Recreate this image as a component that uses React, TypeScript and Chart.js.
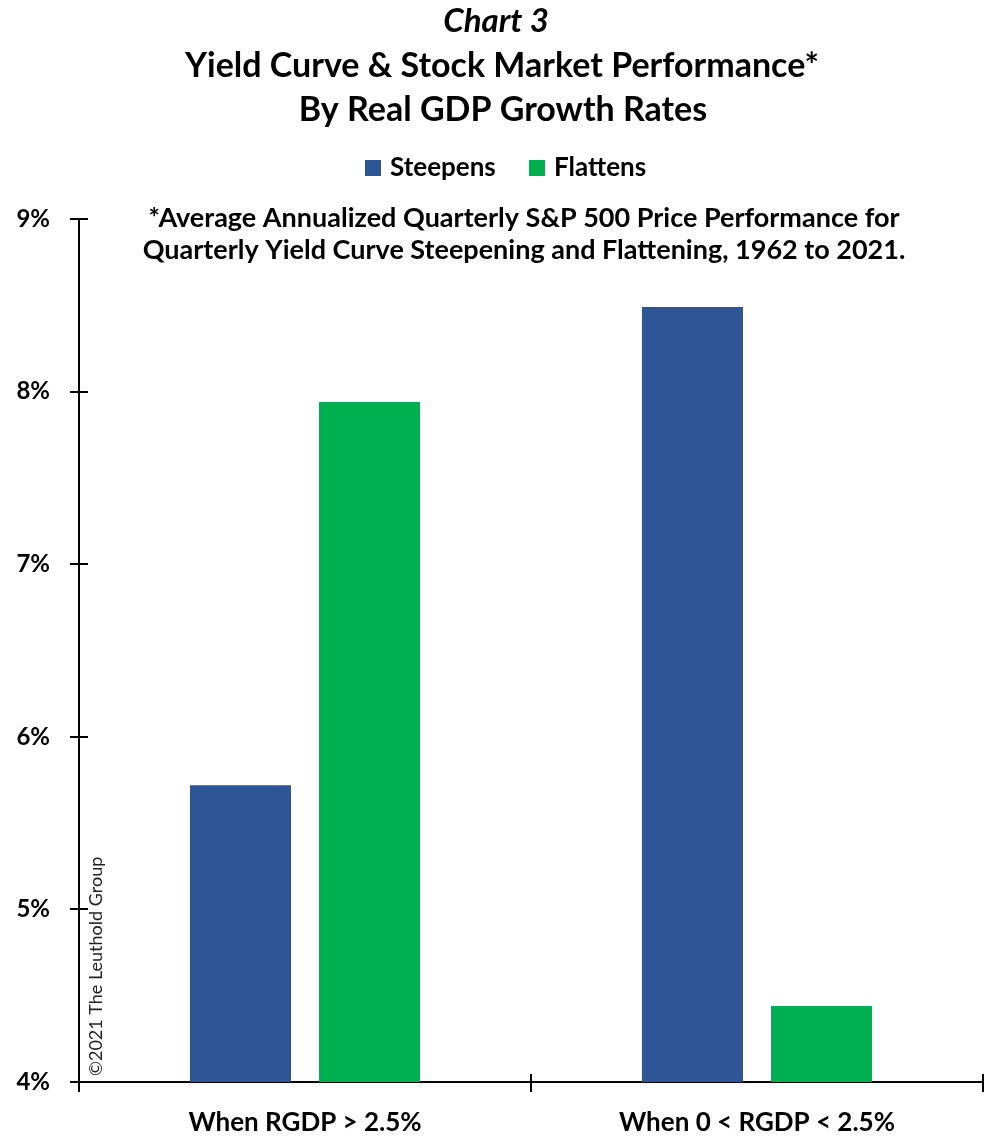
import React, { useEffect, useRef } from "react";
import { Chart, registerables } from "chart.js";

Chart.register(...registerables);

const categories = ["When RGDP > 2.5%", "When 0 < RGDP < 2.5%"];
const steepens = [5.72, 8.49];
const flattens = [7.94, 4.44];
const seriesNames = ["Steepens", "Flattens"];
const seriesColors = ["#2E5596", "#00B050"];
const titleLines = ["Chart 3", "Yield Curve & Stock Market Performance*", "By Real GDP Growth Rates"];
const noteLines = [
  "*Average Annualized Quarterly S&P 500 Price Performance for",
  "Quarterly Yield Curve Steepening and Flattening, 1962 to 2021.",
];
const copyright = "\u00A92021 The Leuthold Group";

const FONT = "Lato, 'Open Sans', sans-serif";

const decorPlugin = {
  id: "decor",
  afterDraw(chart: any) {
    const ctx = chart.ctx as CanvasRenderingContext2D;
    const x = chart.scales.x;
    const y = chart.scales.y;
    ctx.save();

    // titles
    ctx.fillStyle = "#000";
    ctx.textAlign = "center";
    ctx.textBaseline = "middle";
    ctx.font = `italic bold 33px ${FONT}`;
    ctx.fillText(titleLines[0], 496, 21);
    ctx.font = `bold 34px ${FONT}`;
    ctx.fillText(titleLines[1], 502, 66);
    ctx.fillText(titleLines[2], 503, 110);

    // legend
    ctx.font = `bold 26px ${FONT}`;
    ctx.textAlign = "left";
    const legendItems = chart.data.datasets.map((d: any) => ({ label: d.label, color: d.backgroundColor }));
    const legendX = [365, 529];
    legendItems.forEach((it: any, i: number) => {
      ctx.fillStyle = it.color;
      ctx.fillRect(legendX[i], 160, 16, 16);
      ctx.fillStyle = "#000";
      ctx.fillText(it.label, legendX[i] + 25, 168);
    });

    // note
    ctx.textAlign = "center";
    ctx.font = `bold 27px ${FONT}`;
    ctx.fillText(noteLines[0], 524, 218);
    ctx.fillText(noteLines[1], 524, 250);

    // crossing tick marks
    ctx.strokeStyle = "#000";
    ctx.lineWidth = 2;
    ctx.beginPath();
    y.ticks.forEach((t: any) => {
      const py = Math.round(y.getPixelForValue(t.value));
      ctx.moveTo(x.left - 9, py);
      ctx.lineTo(x.left + 9, py);
    });
    const n = categories.length;
    for (let i = 0; i <= n; i++) {
      const px = Math.round(x.left + (i * (x.right - x.left)) / n);
      ctx.moveTo(px, y.bottom - 8);
      ctx.lineTo(px, y.bottom + 10);
    }
    ctx.stroke();

    // copyright
    ctx.save();
    ctx.translate(96, 1076);
    ctx.rotate(-Math.PI / 2);
    ctx.textAlign = "left";
    ctx.font = `18px ${FONT}`;
    ctx.fillStyle = "#222";
    ctx.fillText(copyright, 0, 0);
    ctx.restore();

    ctx.restore();
  },
};

export default function App() {
  const ref = useRef<HTMLCanvasElement | null>(null);

  useEffect(() => {
    if (!ref.current) return;
    const chart = new Chart(ref.current, {
      type: "bar",
      data: {
        labels: categories,
        datasets: [
          { label: seriesNames[0], data: steepens, backgroundColor: seriesColors[0] },
          { label: seriesNames[1], data: flattens, backgroundColor: seriesColors[1] },
        ],
      },
      options: {
        animation: false,
        responsive: true,
        maintainAspectRatio: false,
        datasets: {
          bar: { categoryPercentage: 0.571, barPercentage: 0.783, base: 4 },
        },
        layout: { padding: { top: 219, left: 0, right: 17, bottom: 0 } },
        plugins: {
          legend: { display: false },
          title: { display: false },
          tooltip: { enabled: false },
        },
        scales: {
          x: {
            grid: { display: false },
            border: { display: true, color: "#000", width: 2 },
            ticks: {
              color: "#000",
              padding: 17,
              font: { family: FONT, size: 26, weight: "bold" },
            },
            afterFit(scale: any) {
              scale.height = 61;
            },
          },
          y: {
            min: 4,
            max: 9,
            grid: { display: false },
            border: { display: true, color: "#000", width: 2 },
            ticks: {
              stepSize: 1,
              color: "#000",
              padding: 21,
              font: { family: FONT, size: 24, weight: "bold" },
              callback: (v: any) => `${v}%`,
            },
            afterFit(scale: any) {
              scale.width = 79;
            },
          },
        },
      },
      plugins: [decorPlugin],
    });
    return () => chart.destroy();
  }, []);

  return (
    <div style={{ position: "absolute", left: 0, top: 0, width: 1000, height: 1143, background: "#fff" }}>
      <canvas ref={ref} />
    </div>
  );
}
